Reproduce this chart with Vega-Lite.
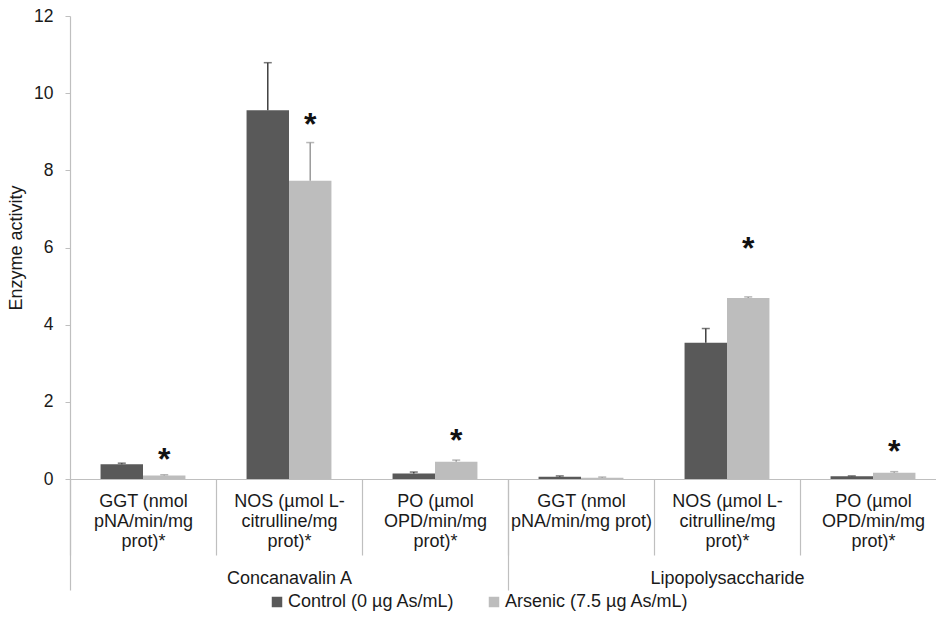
{
  "$schema": "https://vega.github.io/schema/vega-lite/v6.json",
  "width": 876,
  "height": 463,
  "autosize": "none",
  "padding": {"left": 70, "top": 16, "right": -10, "bottom": 144},
  "background": "white",
  "config": {
    "view": {"stroke": null},
    "font": "Liberation Sans",
    "axis": {"labelFont": "Liberation Sans", "titleFont": "Liberation Sans", "labelColor": "#1a1a1a", "titleColor": "#1a1a1a", "domainColor": "#bfbfbf", "tickColor": "#bfbfbf"},
    "legend": {"labelFont": "Liberation Sans", "labelColor": "#1a1a1a"}
  },
  "data": {
    "values": [
      {"group": "Concanavalin A", "cat": "Concanavalin A|GGT (nmol|pNA/min/mg|prot)*", "series": "Control (0 µg As/mL)", "value": 0.38, "err": 0.41, "star": null},
      {"group": "Concanavalin A", "cat": "Concanavalin A|GGT (nmol|pNA/min/mg|prot)*", "series": "Arsenic (7.5 µg As/mL)", "value": 0.09, "err": 0.11, "star": 0.7},
      {"group": "Concanavalin A", "cat": "Concanavalin A|NOS (µmol L-|citrulline/mg|prot)*", "series": "Control (0 µg As/mL)", "value": 9.56, "err": 10.79, "star": null},
      {"group": "Concanavalin A", "cat": "Concanavalin A|NOS (µmol L-|citrulline/mg|prot)*", "series": "Arsenic (7.5 µg As/mL)", "value": 7.73, "err": 8.72, "star": 9.38},
      {"group": "Concanavalin A", "cat": "Concanavalin A|PO (µmol|OPD/min/mg|prot)*", "series": "Control (0 µg As/mL)", "value": 0.14, "err": 0.18, "star": null},
      {"group": "Concanavalin A", "cat": "Concanavalin A|PO (µmol|OPD/min/mg|prot)*", "series": "Arsenic (7.5 µg As/mL)", "value": 0.45, "err": 0.49, "star": 1.19},
      {"group": "Lipopolysaccharide", "cat": "Lipopolysaccharide|GGT (nmol|pNA/min/mg prot)", "series": "Control (0 µg As/mL)", "value": 0.06, "err": 0.08, "star": null},
      {"group": "Lipopolysaccharide", "cat": "Lipopolysaccharide|GGT (nmol|pNA/min/mg prot)", "series": "Arsenic (7.5 µg As/mL)", "value": 0.03, "err": 0.05, "star": null},
      {"group": "Lipopolysaccharide", "cat": "Lipopolysaccharide|NOS (µmol L-|citrulline/mg|prot)*", "series": "Control (0 µg As/mL)", "value": 3.53, "err": 3.9, "star": null},
      {"group": "Lipopolysaccharide", "cat": "Lipopolysaccharide|NOS (µmol L-|citrulline/mg|prot)*", "series": "Arsenic (7.5 µg As/mL)", "value": 4.69, "err": 4.72, "star": 6.17},
      {"group": "Lipopolysaccharide", "cat": "Lipopolysaccharide|PO (µmol|OPD/min/mg|prot)*", "series": "Control (0 µg As/mL)", "value": 0.07, "err": 0.08, "star": null},
      {"group": "Lipopolysaccharide", "cat": "Lipopolysaccharide|PO (µmol|OPD/min/mg|prot)*", "series": "Arsenic (7.5 µg As/mL)", "value": 0.16, "err": 0.19, "star": 0.9}
    ]
  },
  "resolve": {"scale": {"x": "independent"}, "axis": {"x": "independent"}},
  "layer": [
    {
      "layer": [
        {
          "mark": {"type": "bar"},
          "encoding": {
            "x": {"field": "cat", "type": "nominal", "sort": null,
              "scale": {"paddingInner": 0, "paddingOuter": 0},
              "axis": {"title": null, "orient": "bottom", "labelAngle": 0, "labelExpr": "slice(split(datum.value, '|'), 1)",
                "labelFontSize": 18, "labelLineHeight": 20, "labelBaseline": "top", "labelAlign": "center",
                "tickBand": "extent", "tickSize": 76, "labelPadding": -63, "domain": true, "domainWidth": 1.2, "tickWidth": 1.2, "labelOverlap": false, "labelLimit": 300}},
            "xOffset": {"field": "series", "type": "nominal", "sort": ["Control (0 µg As/mL)", "Arsenic (7.5 µg As/mL)"], "scale": {"paddingOuter": 0.72, "paddingInner": 0}},
            "y": {"field": "value", "type": "quantitative",
              "scale": {"domain": [0, 12], "nice": false},
              "axis": {"title": "Enzyme activity", "values": [0, 2, 4, 6, 8, 10, 12], "grid": false, "labelFontSize": 17.5, "titleFontSize": 18, "titleFontWeight": "normal", "tickSize": 5, "labelPadding": 12, "titlePadding": 8, "domainWidth": 1.2}},
            "color": {"field": "series", "type": "nominal", "sort": ["Control (0 µg As/mL)", "Arsenic (7.5 µg As/mL)"],
              "scale": {"range": ["#595959", "#bdbdbd"]},
              "legend": {"title": null, "orient": "none", "legendX": 198, "legendY": 577, "direction": "horizontal", "symbolType": "square", "symbolSize": 110, "symbolStrokeWidth": 0, "labelFontSize": 18, "labelOffset": 2, "columnPadding": 30, "labelLimit": 400}}
          }
        },
        {
          "mark": {"type": "rule", "strokeWidth": 1.5},
          "encoding": {
            "x": {"field": "cat", "type": "nominal", "sort": null},
            "xOffset": {"field": "series", "type": "nominal", "sort": ["Control (0 µg As/mL)", "Arsenic (7.5 µg As/mL)"]},
            "y": {"field": "value", "type": "quantitative"},
            "y2": {"field": "err"},
            "color": {"condition": {"test": "datum.series == 'Control (0 µg As/mL)'", "value": "#404040"}, "value": "#9a9a9a"}
          }
        },
        {
          "mark": {"type": "tick", "size": 8, "thickness": 1.5, "orient": "horizontal"},
          "encoding": {
            "x": {"field": "cat", "type": "nominal", "sort": null},
            "xOffset": {"field": "series", "type": "nominal", "sort": ["Control (0 µg As/mL)", "Arsenic (7.5 µg As/mL)"]},
            "y": {"field": "err", "type": "quantitative"},
            "color": {"condition": {"test": "datum.series == 'Control (0 µg As/mL)'", "value": "#404040"}, "value": "#9a9a9a"}
          }
        },
        {
          "transform": [{"filter": "datum.star != null"}],
          "mark": {"type": "text", "text": "*", "fontSize": 32, "fontWeight": "bold", "baseline": "alphabetic", "dy": 18, "color": "#111111"},
          "encoding": {
            "x": {"field": "cat", "type": "nominal", "sort": null},
            "xOffset": {"field": "series", "type": "nominal", "sort": ["Control (0 µg As/mL)", "Arsenic (7.5 µg As/mL)"]},
            "y": {"field": "star", "type": "quantitative"}
          }
        }
      ]
    },
    {
      "mark": {"type": "point", "opacity": 0},
      "encoding": {
        "x": {"field": "group", "type": "nominal", "sort": null,
          "scale": {"paddingInner": 0, "paddingOuter": 0},
          "axis": {"title": null, "orient": "bottom", "labelAngle": 0, "labelFontSize": 18, "labelBaseline": "top",
            "tickBand": "extent", "tickSize": 111, "labelPadding": -21, "domain": false, "tickWidth": 1.2}},
        "y": {"field": "value", "type": "quantitative"}
      }
    }
  ]
}
